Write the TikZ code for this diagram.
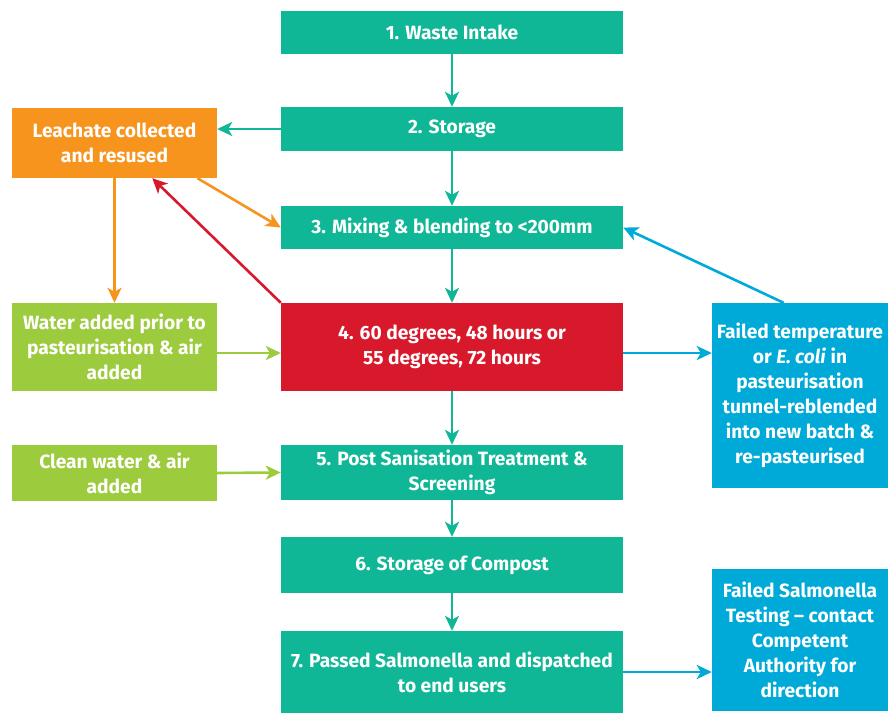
\documentclass[tikz,border=0pt]{standalone}
\usepackage{fontspec}
\setmainfont{Fira Sans}
\usepackage{tikz}
\usetikzlibrary{arrows.meta}

\definecolor{stepteal}{RGB}{16,183,150}
\definecolor{leachorange}{RGB}{247,148,30}
\definecolor{heatred}{RGB}{215,25,43}
\definecolor{addgreen}{RGB}{157,203,62}
\definecolor{failblue}{RGB}{0,170,216}

\begin{document}
\begin{tikzpicture}[x=1pt, y=-1pt,
    box/.style={fill=#1, text=white, align=center, inner sep=0pt,
      font=\fontsize{19.2}{25}\selectfont\bfseries},
    mainbox/.style={box=stepteal, minimum width=342pt},
    sidebox/.style={box=addgreen, minimum width=205pt},
    failbox/.style={box=failblue, minimum width=176pt},
    flow/.style={draw=#1, line width=2.6pt,
      -{Stealth[length=15pt, width=14pt, inset=4pt]}}]
    \useasboundingbox (0,0) rectangle (888,715);

    % main column
    \node[mainbox, minimum height=43pt] (intake)  at (452,32.5)  {1. Waste Intake};
    \node[mainbox, minimum height=44pt] (storage) at (452,129)   {2. Storage};
    \node[mainbox, minimum height=43pt] (mixing)  at (452,227.5) {3. Mixing \& blending to <200mm};
    \node[box=heatred, minimum width=342pt, minimum height=88pt] (pasteur) at (452,347)
        {4. 60 degrees, 48 hours or\\55 degrees, 72 hours};
    \node[mainbox, minimum height=55pt] (post)    at (452,472.5) {5. Post Sanisation Treatment \&\\Screening};
    \node[mainbox, minimum height=56pt] (compost) at (452,565)   {6. Storage of Compost};
    \node[mainbox, minimum height=82pt] (dispatch) at (452,672)  {7. Passed Salmonella and dispatched\\to end users};

    % left column
    \node[box=leachorange, minimum width=205pt, minimum height=70pt] (leachate) at (114.5,143)
        {Leachate collected\\and resused};
    \node[sidebox, minimum height=88pt] (water)  at (114.5,347) {Water added prior to\\pasteurisation \& air\\added};
    \node[sidebox, minimum height=56pt] (clean)  at (114.5,473) {Clean water \& air\\added};

    % right column
    \node[failbox, minimum height=185pt] (failtemp) at (800,395.5)
        {Failed temperature\\or \textit{E. coli} in\\pasteurisation\\tunnel-reblended\\into new batch \&\\re-pasteurised};
    \node[failbox, minimum height=142pt] (failsalm) at (800,640)
        {Failed Salmonella\\Testing -- contact\\Competent\\Authority for\\direction};

    % arrows
    \draw[flow=stepteal] (intake) -- (storage);
    \draw[flow=stepteal] (storage) -- (mixing);
    \draw[flow=stepteal] (mixing) -- (pasteur);
    \draw[flow=stepteal] (pasteur) -- (post);
    \draw[flow=stepteal] (post) -- (compost);
    \draw[flow=stepteal] (compost) -- (dispatch);
    \draw[flow=stepteal] (storage.west) -- (leachate.east |- storage.west);
    \draw[flow=leachorange] (leachate.-23.5) -- (mixing.west);
    \draw[flow=leachorange] (leachate) -- (water);
    \draw[flow=heatred] (pasteur.north west) -- (leachate.-43);
    \draw[flow=addgreen] ([yshift=-6pt]water.east) -- ([yshift=-6pt]pasteur.west);
    \draw[flow=addgreen] (clean.east) -- (post.west);
    \draw[flow=failblue] ([yshift=-6pt]pasteur.east) -- ([yshift=-6pt]pasteur.east -| failtemp.west);
    \draw[flow=failblue] (failtemp.100) -- (mixing.east);
    \draw[flow=failblue] (dispatch.east) -- (dispatch.east -| failsalm.west);
\end{tikzpicture}
\end{document}
